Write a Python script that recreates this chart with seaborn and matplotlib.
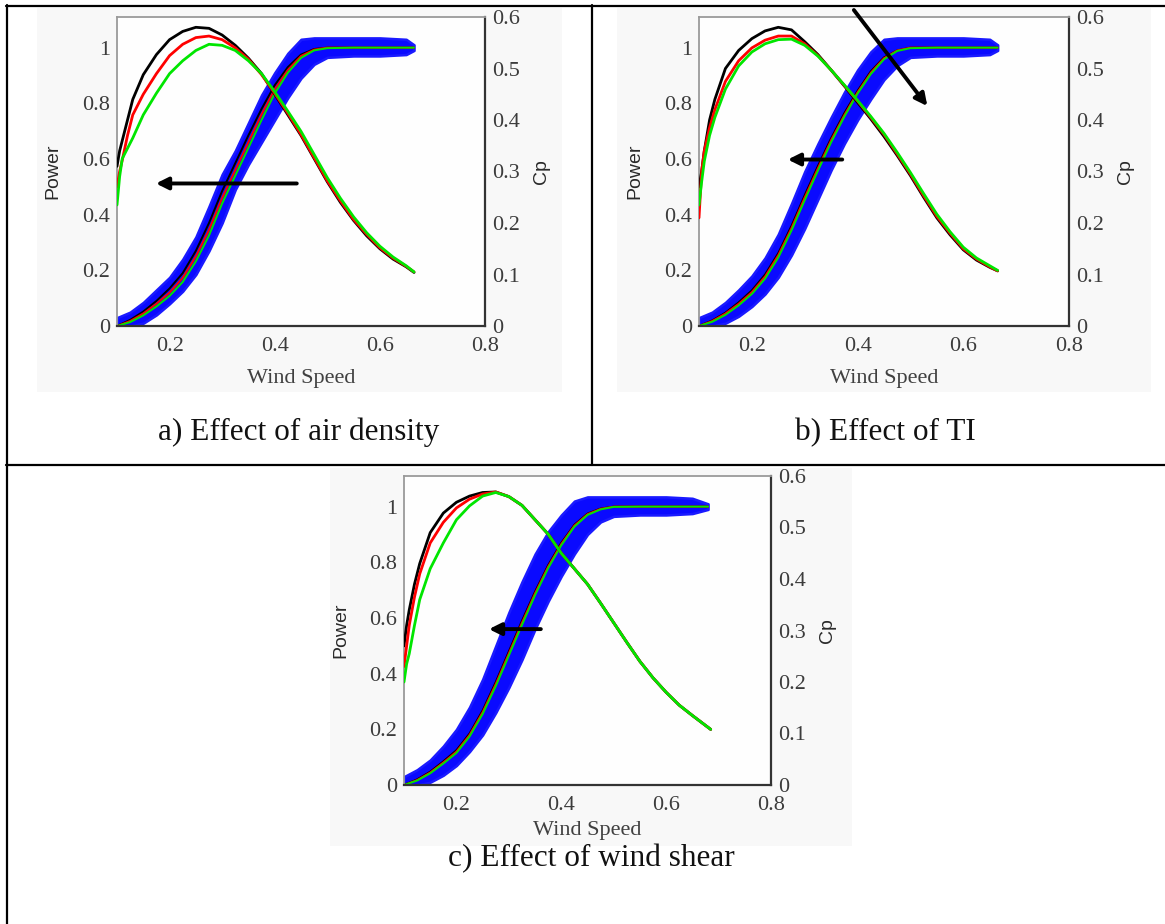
import numpy as np
import pandas as pd
import matplotlib
matplotlib.use("Agg")
import matplotlib.pyplot as plt
import seaborn as sns
from matplotlib.lines import Line2D
from matplotlib.patches import Rectangle

# ---------------- data ----------------
wind_ticks = [0.2, 0.4, 0.6, 0.8]
wind_tick_labels = ["0.2", "0.4", "0.6", "0.8"]
power_ticks = [0, 0.2, 0.4, 0.6, 0.8, 1.0]
power_tick_labels = ["0", "0.2", "0.4", "0.6", "0.8", "1"]
cp_ticks = [0, 0.1, 0.2, 0.3, 0.4, 0.5, 0.6]
cp_tick_labels = ["0", "0.1", "0.2", "0.3", "0.4", "0.5", "0.6"]

captions = ["a) Effect of air density", "b) Effect of TI", "c) Effect of wind shear"]
curve_names = ["black", "red", "green"]

# wind speed grids
ws_power_ab = [0.10, 0.125, 0.15, 0.175, 0.20, 0.225, 0.25, 0.275, 0.30, 0.325, 0.35,
               0.375, 0.40, 0.425, 0.45, 0.475, 0.50, 0.55, 0.60, 0.65, 0.665]
ws_power_c = [0.10, 0.125, 0.15, 0.175, 0.20, 0.225, 0.25, 0.275, 0.30, 0.325, 0.35,
              0.375, 0.40, 0.425, 0.45, 0.475, 0.50, 0.55, 0.60, 0.65, 0.68]
ws_cp_ab = [0.10, 0.105, 0.11, 0.12, 0.13, 0.15, 0.175, 0.20, 0.225, 0.25, 0.275,
            0.30, 0.325, 0.35, 0.375, 0.40, 0.425, 0.45, 0.475, 0.50, 0.525, 0.55,
            0.575, 0.60, 0.625, 0.65, 0.665]
ws_cp_c = [0.10, 0.105, 0.11, 0.12, 0.13, 0.15, 0.175, 0.20, 0.225, 0.25, 0.275,
           0.30, 0.325, 0.35, 0.375, 0.40, 0.425, 0.45, 0.475, 0.50, 0.525, 0.55,
           0.575, 0.60, 0.625, 0.65, 0.685]

# ---- panel a: air density ----
a_band_upper = [0.03, 0.05, 0.085, 0.13, 0.175, 0.24, 0.32, 0.43, 0.545, 0.63, 0.73,
                0.83, 0.91, 0.98, 1.03, 1.035, 1.035, 1.035, 1.035, 1.03, 1.01]
a_band_lower = [0.0, 0.0, 0.01, 0.04, 0.08, 0.125, 0.185, 0.27, 0.37, 0.49, 0.58,
                0.66, 0.74, 0.82, 0.89, 0.94, 0.965, 0.97, 0.97, 0.975, 0.99]
a_power_black = [0.0, 0.022, 0.052, 0.09, 0.135, 0.19, 0.27, 0.37, 0.485, 0.585, 0.685,
                 0.78, 0.865, 0.93, 0.975, 0.995, 1.0, 1.0, 1.0, 1.0, 1.0]
a_power_red = [0.0, 0.018, 0.045, 0.08, 0.12, 0.173, 0.25, 0.345, 0.46, 0.56, 0.66,
               0.76, 0.85, 0.92, 0.97, 0.993, 1.0, 1.0, 1.0, 1.0, 1.0]
a_power_green = [0.0, 0.014, 0.038, 0.07, 0.108, 0.158, 0.232, 0.325, 0.44, 0.54, 0.64,
                 0.74, 0.835, 0.91, 0.963, 0.99, 0.998, 1.0, 1.0, 1.0, 1.0]
a_cp_black = [0.31, 0.34, 0.36, 0.40, 0.44, 0.488, 0.527, 0.556, 0.572, 0.580, 0.578,
              0.565, 0.545, 0.52, 0.49, 0.45, 0.41, 0.37, 0.325, 0.28, 0.24, 0.205,
              0.175, 0.15, 0.13, 0.115, 0.104]
a_cp_red = [0.27, 0.30, 0.322, 0.37, 0.41, 0.45, 0.49, 0.525, 0.547, 0.56, 0.563,
            0.556, 0.54, 0.518, 0.488, 0.452, 0.413, 0.372, 0.327, 0.282, 0.243, 0.207,
            0.178, 0.152, 0.132, 0.116, 0.105]
a_cp_green = [0.235, 0.29, 0.325, 0.345, 0.365, 0.41, 0.452, 0.49, 0.515, 0.535, 0.547,
              0.545, 0.535, 0.515, 0.49, 0.455, 0.417, 0.378, 0.333, 0.288, 0.248, 0.212,
              0.181, 0.155, 0.134, 0.117, 0.105]

# ---- panel b: turbulence intensity ----
b_band_upper = [0.03, 0.05, 0.085, 0.13, 0.18, 0.245, 0.33, 0.44, 0.555, 0.655, 0.75,
                0.84, 0.92, 0.985, 1.03, 1.035, 1.035, 1.035, 1.035, 1.03, 1.01]
b_band_lower = [0.0, 0.0, 0.01, 0.035, 0.07, 0.115, 0.175, 0.255, 0.35, 0.455, 0.56,
                0.655, 0.74, 0.815, 0.885, 0.935, 0.965, 0.97, 0.97, 0.975, 0.99]
b_power_black = [0.0, 0.02, 0.048, 0.085, 0.128, 0.185, 0.262, 0.36, 0.47, 0.575, 0.675,
                 0.765, 0.845, 0.915, 0.965, 0.99, 1.0, 1.0, 1.0, 1.0, 1.0]
b_power_red = [0.0, 0.018, 0.045, 0.08, 0.122, 0.178, 0.255, 0.352, 0.462, 0.567, 0.668,
               0.758, 0.84, 0.91, 0.962, 0.99, 1.0, 1.0, 1.0, 1.0, 1.0]
b_power_green = [0.0, 0.015, 0.04, 0.074, 0.115, 0.17, 0.246, 0.343, 0.452, 0.558, 0.66,
                 0.752, 0.835, 0.905, 0.958, 0.988, 0.998, 1.0, 1.0, 1.0, 1.0]
b_cp_black = [0.27, 0.30, 0.34, 0.40, 0.44, 0.50, 0.535, 0.558, 0.573, 0.58, 0.575,
              0.552, 0.527, 0.497, 0.466, 0.434, 0.402, 0.368, 0.331, 0.292, 0.25, 0.21,
              0.177, 0.148, 0.128, 0.114, 0.107]
b_cp_red = [0.21, 0.30, 0.34, 0.385, 0.42, 0.475, 0.515, 0.54, 0.555, 0.563, 0.563,
            0.548, 0.525, 0.497, 0.467, 0.437, 0.405, 0.372, 0.334, 0.295, 0.253, 0.213,
            0.18, 0.15, 0.13, 0.115, 0.107]
b_cp_green = [0.235, 0.28, 0.32, 0.37, 0.405, 0.46, 0.505, 0.532, 0.548, 0.556, 0.557,
              0.545, 0.524, 0.497, 0.468, 0.438, 0.407, 0.374, 0.337, 0.298, 0.257, 0.217,
              0.183, 0.153, 0.132, 0.117, 0.108]

# ---- panel c: wind shear ----
c_band_upper = [0.03, 0.055, 0.09, 0.14, 0.2, 0.28, 0.38, 0.5, 0.62, 0.73, 0.83,
                0.91, 0.97, 1.02, 1.035, 1.035, 1.035, 1.035, 1.035, 1.03, 1.01]
c_band_lower = [0.0, 0.0, 0.01, 0.035, 0.07, 0.12, 0.18, 0.26, 0.35, 0.45, 0.56,
                0.66, 0.75, 0.83, 0.9, 0.945, 0.965, 0.97, 0.97, 0.975, 0.99]
c_power_black = [0.0, 0.02, 0.048, 0.085, 0.125, 0.185, 0.268, 0.37, 0.48, 0.59, 0.695,
                 0.79, 0.87, 0.935, 0.975, 0.993, 1.0, 1.0, 1.0, 1.0, 1.0]
c_power_red = [0.0, 0.018, 0.045, 0.081, 0.12, 0.18, 0.262, 0.363, 0.473, 0.583, 0.689,
               0.785, 0.866, 0.932, 0.973, 0.992, 1.0, 1.0, 1.0, 1.0, 1.0]
c_power_green = [0.0, 0.016, 0.042, 0.077, 0.115, 0.174, 0.255, 0.355, 0.465, 0.575, 0.682,
                 0.779, 0.861, 0.928, 0.97, 0.99, 0.999, 1.0, 1.0, 1.0, 1.0]
c_cp_black = [0.27, 0.31, 0.34, 0.39, 0.43, 0.49, 0.528, 0.549, 0.561, 0.568, 0.569,
              0.56, 0.543, 0.515, 0.487, 0.45, 0.42, 0.39, 0.353, 0.315, 0.277, 0.24,
              0.208, 0.18, 0.155, 0.135, 0.108]
c_cp_red = [0.23, 0.27, 0.31, 0.365, 0.41, 0.47, 0.51, 0.538, 0.555, 0.565, 0.569,
            0.56, 0.543, 0.515, 0.487, 0.45, 0.42, 0.39, 0.353, 0.315, 0.277, 0.24,
            0.208, 0.18, 0.155, 0.135, 0.108]
c_cp_green = [0.2, 0.235, 0.255, 0.31, 0.36, 0.42, 0.47, 0.515, 0.542, 0.561, 0.568,
              0.56, 0.543, 0.515, 0.487, 0.45, 0.42, 0.39, 0.353, 0.315, 0.277, 0.24,
              0.208, 0.18, 0.155, 0.135, 0.108]

# arrows (tail -> head) in (wind speed, power) units
a_arrows = [((0.442, 0.512), (0.174, 0.512))]
b_arrows = [((0.371, 0.598), (0.268, 0.598)), ((0.393, 1.135), (0.532, 0.79))]
c_arrows = [((0.361, 0.56), (0.262, 0.56))]

# ---------------- style ----------------
sns.set_theme(style="white")
plt.rcParams['font.family'] = ['Liberation Serif', 'DejaVu Serif']

W, H = 1165, 924
fig = plt.figure(figsize=(W / 100, H / 100), dpi=100)
fig.patch.set_facecolor("white")

palette = {"black": "#000000", "red": "#ff0000", "green": "#00e600"}


def fig_rect(x0, y0, x1, y1):
    return [x0 / W, 1 - y1 / H, (x1 - x0) / W, (y1 - y0) / H]


def long_df(ws, series):
    frames = []
    for name, vals in zip(curve_names, series):
        frames.append(pd.DataFrame({"ws": ws, "val": vals, "curve": name}))
    return pd.concat(frames, ignore_index=True)


panels = [
    dict(img=(37, 8, 562, 392), axes=(117, 17, 485, 326), cap=(299, 440), xl=-0.138,
         pws=ws_power_ab, cws=ws_cp_ab,
         band=(a_band_lower, a_band_upper),
         power=(a_power_black, a_power_red, a_power_green),
         cp=(a_cp_black, a_cp_red, a_cp_green), arrows=a_arrows),
    dict(img=(617, 8, 1151, 392), axes=(699, 17, 1069, 326), cap=(885, 440), xl=-0.138,
         pws=ws_power_ab, cws=ws_cp_ab,
         band=(b_band_lower, b_band_upper),
         power=(b_power_black, b_power_red, b_power_green),
         cp=(b_cp_black, b_cp_red, b_cp_green), arrows=b_arrows),
    dict(img=(330, 468, 852, 846), axes=(404, 476, 771, 785), cap=(591, 866), xl=-0.115,
         pws=ws_power_c, cws=ws_cp_c,
         band=(c_band_lower, c_band_upper),
         power=(c_power_black, c_power_red, c_power_green),
         cp=(c_cp_black, c_cp_red, c_cp_green), arrows=c_arrows),
]

tick_color = "#3c3c3c"

for i, p in enumerate(panels):
    # pasted-image background
    x0, y0, x1, y1 = p["img"]
    fig.patches.append(Rectangle((x0 / W, 1 - y1 / H), (x1 - x0) / W, (y1 - y0) / H,
                                 transform=fig.transFigure, facecolor="#f8f8f8",
                                 edgecolor="none", zorder=-5))
    l, t, r, b = p["axes"]
    ax = fig.add_axes(fig_rect(l, t, r, b))
    ax.set_facecolor("#fefefe")

    # blue scatter band of measured power
    lower, upper = p["band"]
    ax.fill_between(p["pws"], lower, upper, color="#0a0aff", edgecolor="#1a1aff",
                    linewidth=1.8, zorder=2)
    sns.lineplot(data=long_df(p["pws"], p["power"]), x="ws", y="val", hue="curve",
                 hue_order=curve_names, palette=palette, sort=False, estimator=None,
                 legend=False, linewidth=1.4, ax=ax, zorder=3)
    ax.set_xlim(0.1, 0.8)
    ax.set_ylim(0, 1.11)
    ax.set_xticks(wind_ticks)
    ax.set_xticklabels(wind_tick_labels)
    ax.set_yticks(power_ticks)
    ax.set_yticklabels(power_tick_labels)
    ax.tick_params(axis="both", length=0, labelsize=16, labelcolor=tick_color)
    ax.tick_params(axis="x", pad=8)
    ax.tick_params(axis="y", pad=5)
    ax.set_xlabel("Wind Speed", fontsize=16, color="#404040")
    ax.xaxis.set_label_coords(0.5, p["xl"])
    ax.set_ylabel("Power", fontsize=14, color="#2a2a2a",
                  family=["Liberation Sans", "DejaVu Sans"])
    ax.yaxis.set_label_coords(-0.15, 0.5)
    for s in ax.spines.values():
        s.set_visible(False)

    # Cp curves on right axis
    ax2 = ax.twinx()
    sns.lineplot(data=long_df(p["cws"], p["cp"]), x="ws", y="val", hue="curve",
                 hue_order=curve_names, palette=palette, sort=False, estimator=None,
                 legend=False, linewidth=2.0, ax=ax2, zorder=3)
    ax2.set_xlim(0.1, 0.8)
    ax2.set_ylim(0, 0.6)
    ax2.set_yticks(cp_ticks)
    ax2.set_yticklabels(cp_tick_labels)
    ax2.tick_params(axis="y", length=0, labelsize=16, labelcolor=tick_color, pad=5)
    ax2.set_ylabel("Cp", fontsize=14, color="#2a2a2a",
                   family=["Liberation Sans", "DejaVu Sans"])
    ax2.yaxis.set_label_coords(1.13, 0.5)
    ax2.set_xlabel("")
    for side, s in ax2.spines.items():
        s.set_visible(True)
        if side in ("left", "top"):
            s.set_color("#9a9a9a")
            s.set_linewidth(1.3)
        else:
            s.set_color("#333333")
            s.set_linewidth(1.6)

    for tail, head in p["arrows"]:
        ax2.annotate("", xy=head, xytext=tail, xycoords=ax.transData,
                     textcoords=ax.transData, annotation_clip=False,
                     arrowprops=dict(arrowstyle="-|>", color="black", lw=2.8,
                                     mutation_scale=18, shrinkA=0, shrinkB=0),
                     zorder=6)

    cx, cy = p["cap"]
    fig.text(cx / W, 1 - cy / H, captions[i], ha="center", va="baseline", fontsize=22.5,
             color="#111111", family=["Liberation Serif", "DejaVu Serif"])

# table rules
def hline(y, x0, x1):
    fig.add_artist(Line2D([x0 / W, x1 / W], [1 - y / H, 1 - y / H], color="black",
                          lw=1.6, zorder=10))


def vline(x, y0, y1):
    fig.add_artist(Line2D([x / W, x / W], [1 - y0 / H, 1 - y1 / H], color="black",
                          lw=1.6, zorder=10))


hline(5.5, 6, W)
hline(465, 6, W)
vline(6.5, 5, H)
vline(592, 5, 465)

fig.savefig("out.png", dpi=100)
